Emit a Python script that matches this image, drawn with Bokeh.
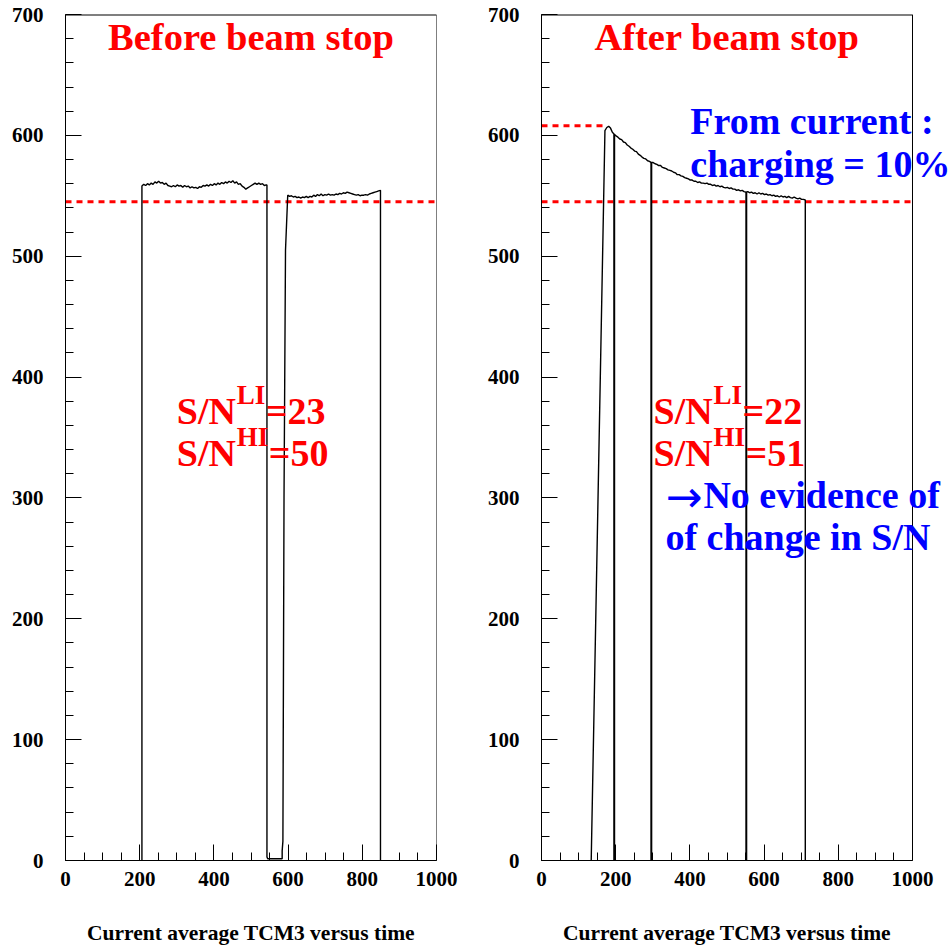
import numpy as np
from bokeh.plotting import figure
from bokeh.layouts import row
from bokeh.models import Range1d, SingleIntervalTicker, Label
from bokeh.embed import file_html
from bokeh.resources import INLINE

# ---------------- data ----------------
x_ticks_interval = 200
y_ticks_interval = 100
x_min, x_max, y_min, y_max = 0, 1000, 0, 700
axis_title = "Current average TCM3 versus time"

# Left panel: "Before beam stop"
left_seg1_start, left_seg1_step = 206, 5
left_seg1 = [558.0, 559.5, 558.5, 560.0, 559.0, 560.5, 559.5, 561.5, 560.5, 562.0,
             560.5, 561.0, 559.5, 560.5, 558.5, 558.0, 557.5, 558.5, 557.5, 559.0,
             558.0, 558.5, 557.0, 558.5, 557.5, 558.0, 556.5, 557.5, 556.5, 557.0,
             556.0, 557.5, 557.0, 558.5, 558.0, 559.0, 558.0, 559.5, 558.5, 560.0,
             559.0, 560.5, 559.5, 561.0, 560.0, 561.5, 560.5, 562.0, 561.0, 562.5,
             560.5, 561.5, 559.5, 560.0, 558.0, 557.0, 555.5, 556.5, 557.5, 558.5,
             559.5, 560.5, 559.5, 560.5, 559.5, 560.0, 558.5, 559.0]
left_dip_t = [543, 543, 545, 584, 584, 586, 589, 593]
left_dip_v = [559, 3, 1.5, 1.5, 8, 16, 300, 505]
left_seg2_start, left_seg2_step = 599, 5
left_seg2 = [550.5, 549.5, 550.0, 549.0, 549.5, 548.5, 549.0, 548.0, 549.0, 548.5,
             549.5, 548.5, 549.5, 549.0, 550.5, 549.5, 551.0, 550.0, 551.5, 550.0,
             551.0, 550.5, 551.5, 550.5, 551.0, 550.5, 551.5, 551.0, 552.0, 551.5,
             552.5, 552.0, 553.0, 552.5, 552.0, 551.5, 551.0, 550.5, 551.0, 550.0,
             550.5, 550.5, 551.0, 550.5, 551.5, 552.0, 552.5, 553.0, 553.5, 554.0,
             554.5]
left_ref_level = 545

# Right panel: "After beam stop"
right_rise_t = [134]
right_rise_v = [0]
right_start, right_step = 171, 5
right_vals = [604.0, 606.5, 607.5, 606.0, 602.5, 601.0, 599.5, 598.5, 597.0, 596.5,
              594.5, 594.0, 592.0, 591.0, 589.5, 588.5, 587.0, 586.5, 584.5, 583.5,
              582.0, 581.0, 580.5, 579.0, 578.5, 577.5, 577.5, 576.5, 576.0, 575.0,
              575.0, 573.5, 573.0, 572.5, 571.5, 571.0, 570.5, 569.5, 569.0, 567.5,
              567.5, 566.5, 566.0, 565.0, 564.5, 564.0, 563.0, 563.0, 562.0, 562.0,
              561.0, 561.5, 560.5, 560.5, 560.0, 560.5, 559.5, 559.5, 558.5, 559.0,
              558.0, 558.5, 557.5, 558.0, 557.0, 556.5, 557.0, 556.0, 556.5, 555.5,
              555.5, 554.5, 555.0, 554.0, 554.5, 553.5, 553.0, 553.5, 552.5, 553.0,
              552.0, 552.5, 551.5, 552.5, 551.5, 552.0, 551.0, 551.5, 550.5, 551.0,
              550.0, 550.5, 549.5, 550.0, 549.0, 550.0, 549.0, 549.5, 548.5, 549.5,
              548.5, 548.0, 549.0, 548.0, 547.5, 548.0, 547.0, 547.0, 546.5]
right_gap_times = [196, 296, 552]
right_ref_level = 545
right_peak_level = 608
right_peak_line_t = [0, 167]

# ---------------- build series ----------------
seg1_t = list(left_seg1_start + left_seg1_step * np.arange(len(left_seg1)))
seg2_t = list(left_seg2_start + left_seg2_step * np.arange(len(left_seg2)))
left_x = [left_seg1_start] + seg1_t + left_dip_t + seg2_t + [seg2_t[-1]]
left_y = [0] + left_seg1 + left_dip_v + left_seg2 + [0]

r_t = list(right_start + right_step * np.arange(len(right_vals)))
right_x = right_rise_t + r_t + [r_t[-1]]
right_y = right_rise_v + right_vals + [0]
gap_tops = list(np.interp(right_gap_times, r_t, right_vals))

FONT = "Liberation Serif"
RED = "#ff0000"
BLUE = "#0000ff"
PANEL_W = 371  # frame width in px of the 0..1000 window


def make_label(x, y, text, color, size=38, align="left", xo=0, yo=0, font=FONT,
               style="bold"):
    return Label(x=x, y=y, text=text, text_font=font, text_font_style=style,
                 text_font_size=f"{size}px", text_color=color, text_align=align,
                 text_baseline="alphabetic", x_offset=xo,
                 y_offset=yo + round(0.36 * size))


def lab(p, *args, **kw):
    p.add_layout(make_label(*args, **kw))


def make_fig(width, border_left, border_right, x_end):
    p = figure(width=width, height=946, x_range=Range1d(x_min, x_end),
               y_range=Range1d(y_min, y_max),
               output_backend="svg", toolbar_location=None,
               min_border_left=border_left, min_border_right=border_right,
               min_border_top=14, min_border_bottom=86)
    p.xgrid.visible = False
    p.ygrid.visible = False
    p.outline_line_color = None
    p.background_fill_color = "white"
    p.border_fill_color = "white"
    p.xaxis.ticker = SingleIntervalTicker(interval=x_ticks_interval, num_minor_ticks=4)
    p.yaxis.ticker = SingleIntervalTicker(interval=y_ticks_interval, num_minor_ticks=5)
    p.xaxis.bounds = (x_min, x_max)
    for ax in (p.xaxis[0], p.yaxis[0]):
        ax.major_tick_in = 16
        ax.major_tick_out = 0
        ax.minor_tick_in = 8
        ax.minor_tick_out = 0
        ax.major_tick_line_color = "black"
        ax.minor_tick_line_color = "black"
        ax.axis_line_color = "black"
        ax.major_label_text_font = FONT
        ax.major_label_text_font_style = "bold"
        ax.major_label_text_font_size = "21px"
        ax.major_label_text_color = "black"
    p.yaxis.major_label_standoff = 22
    p.xaxis.major_label_standoff = 11
    # axis title, centred under the 0..1000 window
    p.add_layout(make_label((x_min + x_max) / 2, -66.5, axis_title, "black",
                            size=21.5, align="center"), "below")
    # frame border (top and right) of the 0..1000 window
    p.line([x_min, x_max], [y_max, y_max], line_color="black", line_width=2)
    p.line([x_max, x_max], [y_min, y_max], line_color="black", line_width=1)
    return p


def sn_block(p, x, y, sup, rest, rest_off):
    lab(p, x, y, "S/N", RED)
    lab(p, x, y, sup, RED, size=27, xo=60, yo=20)
    lab(p, x, y, rest, RED, xo=rest_off)


def ref_line(p, level, t0=x_min, t1=x_max, width=3):
    p.line([t0, t1], [level, level], line_color=RED, line_dash="6 5", line_width=width)


# ---------------- left panel ----------------
p1 = make_fig(484, 65, 48, x_max)
ref_line(p1, left_ref_level)
p1.line(left_x, left_y, line_color="black", line_width=1.4)
lab(p1, 500, 670, "Before beam stop", RED, size=38.5, align="center")
sn_block(p1, 300, 360, "LI", "=23", 89)
sn_block(p1, 300, 326, "HI", "=50", 92)

# ---------------- right panel (frame widened so the texts can run past x=1000) ----
p2_frame_w = 466 - 57 - 2
p2 = make_fig(466, 57, 2, x_max * p2_frame_w / PANEL_W)
ref_line(p2, right_ref_level)
ref_line(p2, right_peak_level, right_peak_line_t[0], right_peak_line_t[1])
p2.line(right_x, right_y, line_color="black", line_width=1.4)
p2.segment(x0=right_gap_times, y0=[0] * len(right_gap_times), x1=right_gap_times,
           y1=gap_tops, line_color="black", line_width=2)
lab(p2, 500, 670, "After beam stop", RED, size=38.5, align="center")
lab(p2, 401, 600, "From current :", BLUE)
lab(p2, 401, 565, "charging = 10%", BLUE)
sn_block(p2, 302, 360, "LI", "=22", 89)
sn_block(p2, 302, 326, "HI", "=51", 92)
lab(p2, 334, 291, "\u2192", BLUE, size=44, yo=-4, font="DejaVu Sans", style="normal")
lab(p2, 334, 291, "No evidence of", BLUE, xo=38)
lab(p2, 334, 256.5, "of change in S/N", BLUE)

layout = row(p1, p2)
open("out.html", "w").write(file_html(layout, INLINE))
